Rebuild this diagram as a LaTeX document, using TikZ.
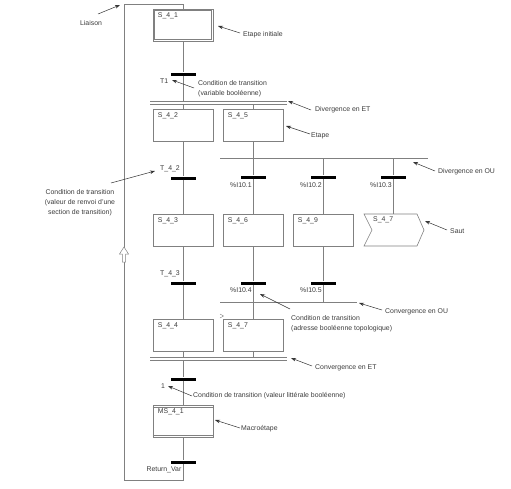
\documentclass[tikz,border=0pt]{standalone}
\usepackage{fontspec}
\setmainfont{Liberation Sans}
\usetikzlibrary{calc,arrows.meta}
\definecolor{linegray}{RGB}{128,128,128}
\definecolor{txtgray}{RGB}{60,60,60}
\definecolor{arrgray}{RGB}{50,50,50}
\newcommand\fsz{\fontsize{6.9}{10}\selectfont}
\tikzset{
  ln/.style={draw=linegray, line width=0.6pt},
  stepbox/.style={draw=linegray, line width=0.6pt, minimum width=60pt, minimum height=32pt, inner sep=0pt, fill=white},
  bar/.style={fill=black, minimum width=25pt, minimum height=3pt, inner sep=0pt},
  txt/.style={font=\fsz, text=txtgray, inner sep=0pt},
  note/.style={draw=arrgray, line width=0.5pt, -{Stealth[length=5pt,width=3.5pt]}},
}
\begin{document}
\begin{tikzpicture}[x=1pt,y=-1pt]
\useasboundingbox (0,0) rectangle (511,488);

% ---- steps ----
\node[stepbox] (s41) at (183,25) {};
\draw[ln] ($(s41.north west)+(2,2)$) rectangle ($(s41.south east)+(-2,-2)$);
\node[stepbox] (s42) at (183,125) {};
\node[stepbox] (s45) at (253,125) {};
\node[stepbox] (s43) at (183,230) {};
\node[stepbox] (s46) at (253,230) {};
\node[stepbox] (s49) at (323,230) {};
\node[stepbox] (s44) at (183,335) {};
\node[stepbox] (s47b) at (253,335) {};
\node[stepbox] (ms41) at (183,421) {};
\draw[ln] ($(ms41.north west)+(0,2.5)$) -- ($(ms41.north east)+(0,2.5)$);
\draw[ln] ($(ms41.south west)+(0,-2.5)$) -- ($(ms41.south east)+(0,-2.5)$);
% jump
\draw[ln, fill=white] (364,214) -- (417,214) -- (424,230) -- (417,246) -- (364,246) -- (372,230) -- cycle;
\coordinate (j47) at (393,214);

% step labels
\node[txt, anchor=west] at ($(s41.north west)+(5,7)$) {S\_4\_1};
\node[txt, anchor=west] at ($(s42.north west)+(5,7)$) {S\_4\_2};
\node[txt, anchor=west] at ($(s45.north west)+(5,7)$) {S\_4\_5};
\node[txt, anchor=west] at ($(s43.north west)+(5,7)$) {S\_4\_3};
\node[txt, anchor=west] at ($(s46.north west)+(5,7)$) {S\_4\_6};
\node[txt, anchor=west] at ($(s49.north west)+(5,7)$) {S\_4\_9};
\node[txt, anchor=west] at (373,220) {S\_4\_7};
\node[txt, anchor=west] at ($(s44.north west)+(5,7)$) {S\_4\_4};
\node[txt, anchor=west] at ($(s47b.north west)+(5,7)$) {S\_4\_7};
\node[txt, anchor=west] at ($(ms41.north west)+(5,7)$) {MS\_4\_1};
\draw[ln, line width=0.4pt] (220,314) -- (223.5,316) -- (220,318);

% ---- transitions ----
\node[bar] (t1) at (183,74) {};
\node[bar] (t42) at (183,178) {};
\node[bar] (t43) at (183,283) {};
\node[bar] (i101) at (253,177) {};
\node[bar] (i102) at (323,177) {};
\node[bar] (i103) at (393,177) {};
\node[bar] (i104) at (253,283) {};
\node[bar] (i105) at (323,283) {};
\node[bar] (tone) at (183,379) {};
\node[bar] (tret) at (183,462) {};

\node[txt, anchor=west] at (160,81) {T1};
\node[txt, anchor=west] at (160,169) {T\_4\_2};
\node[txt, anchor=west] at (160,274) {T\_4\_3};
\node[txt, anchor=west] at (230,185) {\%I10.1};
\node[txt, anchor=west] at (300,185) {\%I10.2};
\node[txt, anchor=west] at (370,185) {\%I10.3};
\node[txt, anchor=west] at (230,290) {\%I10.4};
\node[txt, anchor=west] at (300,290) {\%I10.5};
\node[txt, anchor=west] at (161,386) {1};
\node[txt, anchor=east] at (181.5,470) {Return\_Var};

% ---- divergence / convergence lines ----
\coordinate (dETa) at (150,101); \coordinate (dETb) at (287,101);
\coordinate (dETc) at (150,104); \coordinate (dETd) at (287,104);
\coordinate (dOUa) at (220,158); \coordinate (dOUb) at (428,158);
\coordinate (cOUa) at (220,302); \coordinate (cOUb) at (357,302);
\coordinate (cETa) at (150,357); \coordinate (cETb) at (287,357);
\coordinate (cETc) at (150,360); \coordinate (cETd) at (287,360);
\draw[ln] (dETa) -- (dETb);
\draw[ln] (dETc) -- (dETd);
\draw[ln] (dOUa) -- (dOUb);
\draw[ln] (cOUa) -- (cOUb);
\draw[ln] (cETa) -- (cETb);
\draw[ln] (cETc) -- (cETd);

% ---- connectors ----
\draw[ln] (s41.south) -- (t1.north);
\draw[ln] (t1.south) -- (t1.south |- dETa);
\draw[ln] (s42.north |- dETc) -- (s42.north);
\draw[ln] (s45.north |- dETc) -- (s45.north);
\draw[ln] (s42.south) -- (t42.north);
\draw[ln] (t42.south) -- (s43.north);
\draw[ln] (s43.south) -- (t43.north);
\draw[ln] (t43.south) -- (s44.north);
\draw[ln] (s45.south) -- (s45.south |- dOUa);
\draw[ln] (i101.north |- dOUa) -- (i101.north);
\draw[ln] (i102.north |- dOUa) -- (i102.north);
\draw[ln] (i103.north |- dOUa) -- (i103.north);
\draw[ln] (i101.south) -- (s46.north);
\draw[ln] (i102.south) -- (s49.north);
\draw[ln] (i103.south) -- (j47);
\draw[ln] (s46.south) -- (i104.north);
\draw[ln] (s49.south) -- (i105.north);
\draw[ln] (i104.south) -- (i104.south |- cOUa);
\draw[ln] (i105.south) -- (i105.south |- cOUa);
\draw[ln] (s47b.north |- cOUa) -- (s47b.north);
\draw[ln] (s44.south) -- (s44.south |- cETa);
\draw[ln] (s47b.south) -- (s47b.south |- cETa);
\draw[ln] (tone.north |- cETc) -- (tone.north);
\draw[ln] (tone.south) -- (ms41.north);
\draw[ln] (ms41.south) -- (tret.north);
% loop (liaison)
\coordinate (lpTop) at (124,4);
\coordinate (lpBot) at (124,480);
\draw[ln] (tret.south) -- (tret.south |- lpBot) -- (lpBot) -- (lpTop) -- (s41.north |- lpTop) -- (s41.north);
\draw[ln, line width=0.5pt, fill=white] (124,247) -- (128.5,254) -- (125.6,254) -- (125.6,262) -- (122.4,262) -- (122.4,254) -- (119.5,254) -- cycle;

% ---- annotations ----
\node[txt] (nLiaison) at (91,23) {Liaison};
\draw[note] (98,14) -- (120,5);
\node[txt, anchor=west] (nInit) at (243,35) {Etape initiale};
\draw[note] (240,33) -- (218,26);
\node[txt, anchor=west, align=left] (nT1) at (198,89) {Condition de transition\\(variable booléenne)};
\draw[note] (194,88) -- (172,80);
\node[txt, anchor=west] (nDET) at (315,110) {Divergence en ET};
\draw[note] (311,110) -- (288,101);
\node[txt, anchor=west] (nEtape) at (311,136) {Etape};
\draw[note] (310,134) -- (286,126);
\node[txt, anchor=west] (nDOU) at (438,172) {Divergence en OU};
\draw[note] (435,171) -- (413,162);
\node[txt, align=center] (nT42) at (80,203) {Condition de transition\\(valeur de renvoi d'une\\section de transition)};
\draw[note] (111,183) -- (155,171);
\node[txt, anchor=west] (nSaut) at (450,231) {Saut};
\draw[note] (447,230) -- (425,221);
\node[txt, anchor=west] (nCOU) at (385,312) {Convergence en OU};
\draw[note] (382,310) -- (359,303);
\node[txt, anchor=west, align=left] (nAdr) at (291,323.5) {Condition de transition\\(adresse booléenne topologique)};
\draw[note] (290,309) -- (260,294);
\node[txt, anchor=west] (nCET) at (315,368) {Convergence en ET};
\draw[note] (312,366) -- (291,358);
\node[txt, anchor=west] (nOne) at (193,396) {Condition de transition (valeur littérale booléenne)};
\draw[note] (192,396) -- (168,386);
\node[txt, anchor=west] (nMacro) at (241,429) {Macroétape};
\draw[note] (240,428) -- (215,420);
\end{tikzpicture}
\end{document}
